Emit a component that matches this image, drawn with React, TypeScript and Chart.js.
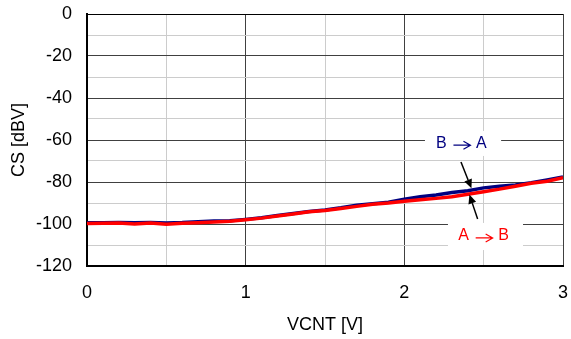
import React, { useEffect, useRef } from "react";
import { Chart, registerables } from "chart.js";

Chart.register(...registerables);

const vcnt = [0, 0.1, 0.2, 0.3, 0.4, 0.5, 0.6, 0.7, 0.8, 0.9, 1.0, 1.1, 1.2, 1.3, 1.4, 1.5, 1.6, 1.7, 1.8, 1.9, 2.0, 2.1, 2.2, 2.3, 2.4, 2.5, 2.6, 2.7, 2.8, 2.9, 3.0];
const csBA = [-99.4, -99.4, -99.3, -99.4, -99.3, -99.5, -99.3, -98.9, -98.6, -98.5, -97.8, -97.0, -96.0, -95.0, -94.0, -93.3, -92.3, -91.1, -90.4, -89.6, -88.2, -87.0, -86.2, -85.0, -84.2, -82.8, -82.0, -81.4, -80.3, -79.0, -77.6];
const csAB = [-99.8, -99.6, -99.5, -100.0, -99.5, -100.1, -99.6, -99.4, -99.1, -98.7, -98.0, -97.2, -96.2, -95.2, -94.2, -93.6, -92.6, -91.6, -90.6, -90.0, -89.2, -88.4, -87.8, -87.0, -85.8, -84.6, -83.4, -82.0, -80.6, -79.6, -78.0];

const seriesNames = ["B → A", "A → B"];
const xTitle = "VCNT [V]";
const yTitle = "CS [dBV]";

// annotation anchors in data units
const labelBA = { from: "B", to: "A", x: 2.36, y: -61.5, x0: 2.13, x1: 2.61, y0: -55.7, y1: -67.6 };
const labelAB = { from: "A", to: "B", x: 2.5, y: -105.7, x0: 2.275, x1: 2.748, y0: -99.5, y1: -112.4 };
const arrowBA = { x0: 2.357, y0: -70.5, x1: 2.423, y1: -83.0 };
const arrowAB = { x0: 2.462, y0: -97.6, x1: 2.41, y1: -86.0 };

const FONT = "Arial, 'Liberation Sans', 'DejaVu Sans', sans-serif";

const annotationPlugin = {
  id: "annots",
  afterDatasetsDraw(chart: any) {
    const { ctx, scales } = chart;
    const xs = scales.x;
    const ys = scales.y;
    const px = (v: number) => xs.getPixelForValue(v);
    const py = (v: number) => ys.getPixelForValue(v);
    ctx.save();
    const drawLabel = (l: any, color: string) => {
      ctx.fillStyle = "#ffffff";
      const left = px(l.x0), right = px(l.x1), top = py(l.y0), bottom = py(l.y1);
      ctx.fillRect(left, top, right - left, bottom - top);
      const cx = px(l.x), cy = py(l.y);
      ctx.fillStyle = color;
      ctx.strokeStyle = color;
      ctx.font = `16px ${FONT}`;
      ctx.textAlign = "center";
      ctx.textBaseline = "middle";
      ctx.fillText(l.from, cx - 20, cy);
      ctx.fillText(l.to, cx + 20, cy);
      const ax0 = cx - 8, ax1 = cx + 9, ay = cy + 2;
      ctx.lineWidth = 1.2;
      ctx.beginPath();
      ctx.moveTo(ax0, ay);
      ctx.lineTo(ax1, ay);
      ctx.moveTo(ax1 - 7, ay - 4);
      ctx.lineTo(ax1, ay);
      ctx.lineTo(ax1 - 7, ay + 4);
      ctx.stroke();
    };
    drawLabel(labelBA, "#000080");
    drawLabel(labelAB, "#ff0000");
    const drawArrow = (a: any) => {
      const x0 = px(a.x0), y0 = py(a.y0), x1 = px(a.x1), y1 = py(a.y1);
      const ang = Math.atan2(y1 - y0, x1 - x0);
      const head = 9, hw = 4;
      const bx = x1 - head * Math.cos(ang), by = y1 - head * Math.sin(ang);
      ctx.strokeStyle = "#000";
      ctx.lineWidth = 1.5;
      ctx.beginPath();
      ctx.moveTo(x0, y0);
      ctx.lineTo(bx, by);
      ctx.stroke();
      ctx.fillStyle = "#000";
      ctx.beginPath();
      ctx.moveTo(x1, y1);
      ctx.lineTo(bx + hw * Math.sin(ang), by - hw * Math.cos(ang));
      ctx.lineTo(bx - hw * Math.sin(ang), by + hw * Math.cos(ang));
      ctx.closePath();
      ctx.fill();
    };
    drawArrow(arrowBA);
    drawArrow(arrowAB);
    ctx.restore();
  },
};

export default function App() {
  const ref = useRef<HTMLCanvasElement | null>(null);
  useEffect(() => {
    document.body.style.margin = "0";
    const canvas = ref.current;
    if (!canvas) return;
    const chart = new Chart(canvas, {
      type: "line",
      data: {
        // Chart.js paints dataset 0 last (on top), so red goes first
        datasets: [
          {
            label: seriesNames[1],
            data: vcnt.map((x, i) => ({ x, y: csAB[i] })),
            borderColor: "#ff0000",
            borderWidth: 3.5,
            pointRadius: 0,
            tension: 0,
            fill: false,
          },
          {
            label: seriesNames[0],
            data: vcnt.map((x, i) => ({ x, y: csBA[i] })),
            borderColor: "#000080",
            borderWidth: 3.5,
            pointRadius: 0,
            tension: 0,
            fill: false,
          },
        ],
      },
      options: {
        animation: false,
        responsive: false,
        maintainAspectRatio: false,
        layout: { padding: { top: 14, right: 8, left: 0, bottom: 0 } },
        plugins: { legend: { display: false }, tooltip: { enabled: false } },
        scales: {
          x: {
            type: "linear",
            min: 0,
            max: 3,
            afterFit: (s: any) => {
              s.height = 73;
              s.paddingLeft = 0;
              s.paddingRight = 0;
            },
            ticks: {
              stepSize: 0.5,
              autoSkip: false,
              maxRotation: 0,
              padding: 16,
              color: "#000",
              font: { family: FONT, size: 18 },
              callback: (v: any) => (Number.isInteger(Number(v)) ? String(v) : ""),
            },
            grid: {
              drawTicks: false,
              lineWidth: 1,
              color: (c: any) => (Number.isInteger(c.tick?.value) ? "#404040" : "#cccccc"),
            },
            border: { color: "#000", width: 2 },
            title: {
              display: true,
              text: xTitle,
              color: "#000",
              font: { family: FONT, size: 18 },
              padding: { top: 0, bottom: 3 },
            },
          },
          y: {
            type: "linear",
            min: -120,
            max: 0,
            afterFit: (s: any) => {
              s.width = 87;
              s.paddingTop = 0;
              s.paddingBottom = 0;
            },
            ticks: {
              stepSize: 10,
              autoSkip: false,
              padding: 15,
              color: "#000",
              font: { family: FONT, size: 18 },
              callback: (v: any) => (Number(v) % 20 === 0 ? String(v) : ""),
            },
            grid: {
              drawTicks: false,
              lineWidth: 1,
              color: (c: any) => {
                const v = c.tick?.value;
                if (v === 0) return "#000";
                return v % 20 === 0 ? "#404040" : "#cccccc";
              },
            },
            border: { color: "#000", width: 2 },
            title: {
              display: true,
              text: yTitle,
              color: "#000",
              font: { family: FONT, size: 18 },
              padding: { top: 8, bottom: 0 },
            },
          },
        },
      },
      plugins: [annotationPlugin],
    });
    return () => chart.destroy();
  }, []);
  return (
    <canvas ref={ref} width={571} height={339} style={{ display: "block", width: 571, height: 339 }} />
  );
}
